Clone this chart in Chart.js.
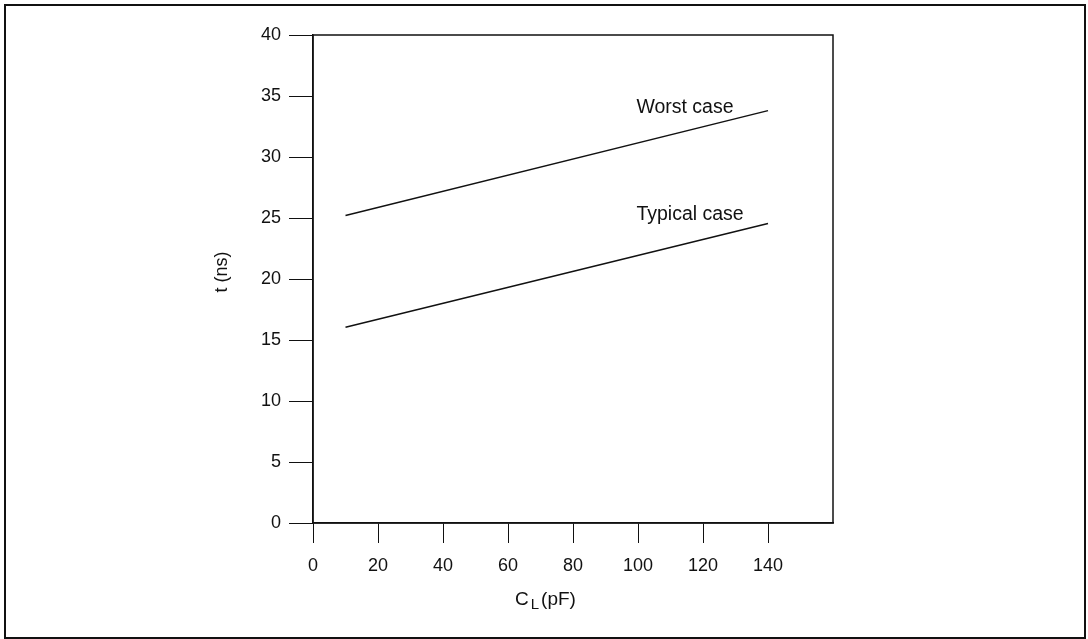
<!DOCTYPE html>
<html>
<head>
<meta charset="utf-8">
<script src="https://cdn.jsdelivr.net/npm/chart.js@4/dist/chart.umd.min.js"></script>
<style>
  html, body { margin: 0; padding: 0; background: #fff; }
  #wrap { width: 1088px; height: 639px; position: relative; }
</style>
</head>
<body>
<div id="wrap"><canvas id="graphe" width="1088" height="639"></canvas></div>
<script>
// data
const capLoad = [10, 140];          // C_L (pF)
const worstCase = [25.2, 33.8];     // t (ns)
const typicalCase = [16.05, 24.55]; // t (ns)
const xTicks = [0, 20, 40, 60, 80, 100, 120, 140];
const yTicks = [0, 5, 10, 15, 20, 25, 30, 35, 40];
const curveNames = ["Worst case", "Typical case"];
const labelAt = [[99.5, 33.6], [99.5, 24.8]];

const police = "'Liberation Sans', Arial, Helvetica, sans-serif";
const noir = "#111";

function points(xs, ys) {
  return xs.map((x, i) => ({ x: x, y: ys[i] }));
}

// frame, plot box, curve names and axis titles
const dessin = {
  id: "dessin",
  afterDraw(chart) {
    const c = chart.ctx;
    const a = chart.chartArea;
    const sx = chart.scales.x, sy = chart.scales.y;
    c.save();
    c.strokeStyle = noir;
    c.lineWidth = 2;
    c.strokeRect(5, 5, 1080, 633);
    c.lineWidth = 1.5;
    c.strokeRect(a.left, a.top, a.right - a.left, a.bottom - a.top);

    c.fillStyle = noir;
    c.font = "19.5px " + police;
    c.textAlign = "left";
    c.textBaseline = "alphabetic";
    curveNames.forEach((nom, i) => {
      c.fillText(nom, sx.getPixelForValue(labelAt[i][0]), sy.getPixelForValue(labelAt[i][1]));
    });

    // y title
    c.save();
    c.translate(222, 272);
    c.rotate(-Math.PI / 2);
    c.textAlign = "center";
    c.textBaseline = "middle";
    c.font = "18px " + police;
    c.fillText("t (ns)", 0, 0);
    c.restore();

    // x title with subscript
    c.textBaseline = "middle";
    c.textAlign = "left";
    let x = 515;
    c.font = "19px " + police;
    c.fillText("C", x, 600);
    x += c.measureText("C").width + 2;
    c.font = "15px " + police;
    c.fillText("L", x, 605);
    x += c.measureText("L").width + 2;
    c.font = "19px " + police;
    c.fillText("(pF)", x, 600);
    c.restore();
  }
};

const chart = new Chart(document.getElementById("graphe"), {
  type: "scatter",
  data: {
    datasets: [{
      label: curveNames[0],
      data: points(capLoad, worstCase),
      showLine: true,
      borderColor: noir,
      borderWidth: 1.5,
      pointRadius: 0
    }, {
      label: curveNames[1],
      data: points(capLoad, typicalCase),
      showLine: true,
      borderColor: noir,
      borderWidth: 1.5,
      pointRadius: 0
    }]
  },
  options: {
    responsive: false,
    animation: false,
    devicePixelRatio: 1,
    layout: { padding: { left: 0, top: 35, right: 255, bottom: 0 } },
    plugins: { legend: { display: false }, tooltip: { enabled: false } },
    scales: {
      x: {
        type: "linear",
        min: 0, max: 160,
        afterBuildTicks: s => { s.ticks = xTicks.map(v => ({ value: v })); },
        afterFit: s => { s.height = 116; },
        grid: { drawOnChartArea: false, drawTicks: true, tickLength: 20, color: noir, lineWidth: 1 },
        border: { display: true, color: noir, width: 1.5 },
        ticks: { color: noir, font: { family: police, size: 18 }, padding: 12, maxRotation: 0 }
      },
      y: {
        type: "linear",
        min: 0, max: 40,
        afterBuildTicks: s => { s.ticks = yTicks.map(v => ({ value: v })); },
        afterFit: s => { s.width = 313; },
        grid: { drawOnChartArea: false, drawTicks: true, tickLength: 24, color: noir, lineWidth: 1 },
        border: { display: true, color: noir, width: 1.5 },
        ticks: { color: noir, font: { family: police, size: 18 }, padding: 8 }
      }
    }
  },
  plugins: [dessin]
});
</script>
</body>
</html>
